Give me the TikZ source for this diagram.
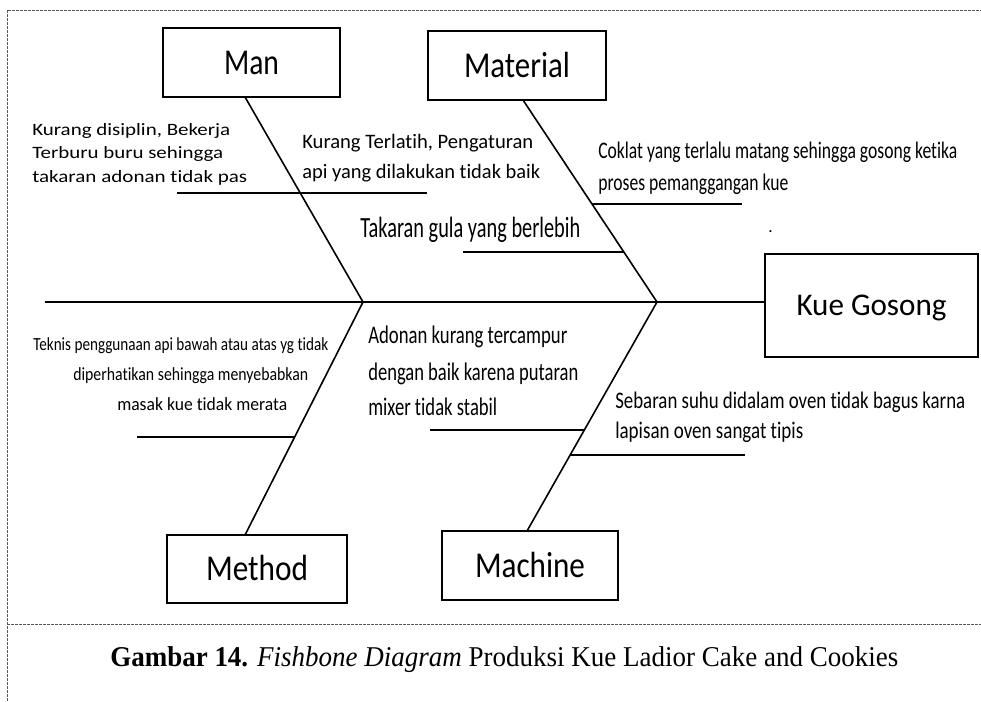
\documentclass[tikz,border=0pt]{standalone}
\usepackage{fontspec}
\setmainfont{Carlito}[Ligatures={NoCommon}]
\newfontfamily\capfont{Liberation Serif}
\usepackage{graphicx}
\newdimen\pxu \pxu=0.75pt
\newcommand\fw[2]{\resizebox{#1\pxu}{\height}{#2}}
\begin{document}
\begin{tikzpicture}[x=0.75pt,y=-0.75pt,
  bone/.style={line width=1.2pt, black},
  subbone/.style={line width=1.2pt, black},
  dashframe/.style={black!65, line width=0.6pt, dash pattern=on 2pt off 1pt},
  catbox/.style={draw, line width=2pt, inner sep=0pt, text height=17.25pt, text depth=0pt, font=\fontsize{27.3}{30}\selectfont},
  lbl/.style={inner sep=0pt, anchor=base west},
  fA/.style={font=\fontsize{13}{15}\selectfont},
  fB/.style={font=\fontsize{15.4}{18}\selectfont},
  fC/.style={font=\fontsize{22}{26}\selectfont},
  fD/.style={font=\fontsize{17.8}{21}\selectfont},
  fE/.style={font=\fontsize{13.9}{16}\selectfont},
  fF/.style={font=\fontsize{19}{22}\selectfont}]
\useasboundingbox (0,0) rectangle (981,701);

% frame
\draw[dashframe] (7,701) -- (7,10) -- (981,10);
\draw[dashframe] (7,624) -- (981,624);

% boxes
\node[catbox, minimum width=132.75pt, minimum height=51.75pt] (man) at (251.5,62.5) {\fw{55}{Man}};
\node[catbox, minimum width=133.5pt, minimum height=51.75pt] (mat) at (517,65.5) {\fw{106}{Material}};
\node[catbox, minimum width=159.75pt, minimum height=77.25pt, text height=15pt, font=\fontsize{23.7}{28}\selectfont] (kue) at (871.5,305.5) {\fw{150}{Kue Gosong}};
\node[catbox, minimum width=135pt, minimum height=51pt] (meth) at (257,569) {\fw{102}{Method}};
\node[catbox, minimum width=132pt, minimum height=51.75pt] (mach) at (530,565.5) {\fw{110}{Machine}};

% spine and joints
\coordinate (spineL) at (45,302);
\coordinate (j1) at (363,302);
\coordinate (j2) at (657,302);
\coordinate (manb) at (245,97);
\coordinate (matb) at (523,100);
\coordinate (metht) at (245,535);
\coordinate (macht) at (527,531);
\draw[bone] (spineL) -- (j1) -- (j2) -- (j2 -| kue.west);
\draw[bone] (manb) -- (j1);
\draw[bone] (matb) -- (j2);
\draw[bone] (j1) -- (metht);
\draw[bone] (j2) -- (macht);

% sub bones
\coordinate (s1a) at (177,193); \coordinate (s1b) at (427,193);
\coordinate (s2a) at (463,252); \coordinate (s2b) at (624,252);
\coordinate (s3a) at (592,204); \coordinate (s3b) at (742,204);
\coordinate (s4a) at (137,437); \coordinate (s4b) at (295,437);
\coordinate (s5a) at (430,430); \coordinate (s5b) at (584,430);
\coordinate (s6a) at (570,455); \coordinate (s6b) at (745,455);
\draw[subbone] (s1a) -- (s1b);
\draw[subbone] (s2a) -- (s2b);
\draw[subbone] (s3a) -- (s3b);
\draw[subbone] (s4a) -- (s4b);
\draw[subbone] (s5a) -- (s5b);
\draw[subbone] (s6a) -- (s6b);

% texts: Man
\node[lbl,fA] (t1a) at (32,135) {\fw{198}{Kurang disiplin, Bekerja}};
\node[lbl,fA] (t1b) at (32,158) {\fw{191}{Terburu buru sehingga}};
\node[lbl,fA] (t1c) at (32,182) {\fw{215}{takaran adonan tidak pas}};
\node[lbl,fB] (t2a) at (302,148) {\fw{231}{Kurang Terlatih, Pengaturan}};
\node[lbl,fB] (t2b) at (302,178) {\fw{238}{api yang dilakukan tidak baik}};
% Material
\node[lbl,fC] (t3) at (360,237) {\fw{220}{Takaran gula yang berlebih}};
\node[lbl,fD] (t4a) at (598,158) {\fw{359}{Coklat yang terlalu matang sehingga gosong ketika}};
\node[lbl,fD] (t4b) at (598,190) {\fw{190}{proses pemanggangan kue}};
\node[lbl,fA] (dot) at (768,232) {.};
% Method
\node[lbl,fE] (t5a) at (33,350) {\fw{295}{Teknis penggunaan api bawah atau atas yg tidak}};
\node[lbl,fE] (t5b) at (73,380) {\fw{235}{diperhatikan sehingga menyebabkan}};
\node[lbl,fE] (t5c) at (117,410) {\fw{170}{masak kue tidak merata}};
% Machine
\node[lbl,fF] (t6a) at (368,343) {\fw{199}{Adonan kurang tercampur}};
\node[lbl,fF] (t6b) at (368,380) {\fw{210}{dengan baik karena putaran}};
\node[lbl,fF] (t6c) at (368,415) {\fw{129}{mixer tidak stabil}};
\node[lbl,fD] (t7a) at (615,408) {\fw{350}{Sebaran suhu didalam oven tidak bagus karna}};
\node[lbl,fD] (t7b) at (615,438) {\fw{188}{lapisan oven sangat tipis}};

% caption
\node[lbl, font=\capfont\fontsize{21.5}{25}\selectfont] (cap) at (110,666) {\fw{788}{\textbf{Gambar 14.} \textit{Fishbone Diagram} Produksi Kue Ladior Cake and Cookies}};
\end{tikzpicture}
\end{document}
